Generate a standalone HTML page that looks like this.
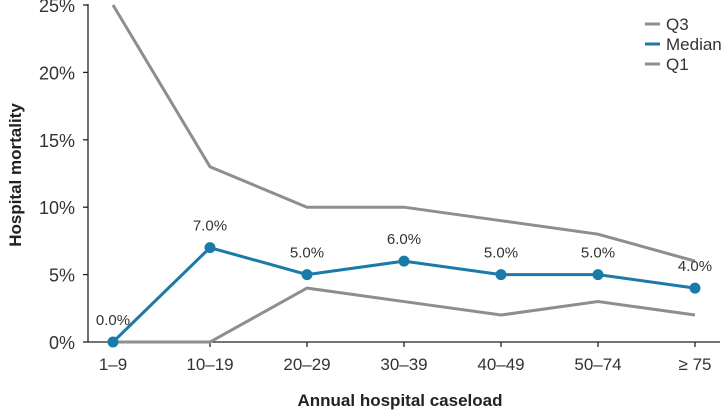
<!DOCTYPE html>
<html><head><meta charset="utf-8"><style>
body{margin:0;background:#fff}
svg{display:block;font-family:"Liberation Sans",Arial,sans-serif}
</style></head><body>
<svg id="c" width="723" height="413"></svg>
<script>
const categories=["1–9","10–19","20–29","30–39","40–49","50–74","≥ 75"];
const q3Values=[25,13,10,10,9,8,6];
const medianValues=[0,7,5,6,5,5,4];
const q1Values=[0,0,4,3,2,3,2];
const yTicks=[0,5,10,15,20,25];
const medianLabels=["0.0%","7.0%","5.0%","6.0%","5.0%","5.0%","4.0%"];

const NS="http://www.w3.org/2000/svg";
const svg=document.getElementById('c');
function el(t,a,p){const e=document.createElementNS(NS,t);for(const k in a)e.setAttribute(k,a[k]);(p||svg).appendChild(e);return e;}
const x0=113,dx=97,y0=342,py=13.48;
const xs=i=>x0+i*dx;
const ys=v=>y0-v*py;

let g=el('g',{});


el('line',{x1:88,y1:4,x2:88,y2:y0,stroke:'#222','stroke-width':1.3},g);
yTicks.forEach(v=>{
  el('line',{x1:83,y1:ys(v),x2:88,y2:ys(v),stroke:'#222','stroke-width':1.3},g);
  const t=el('text',{x:75,y:ys(v)+7,'text-anchor':'end','font-size':18,fill:'#333'},g);
  t.textContent=v+'%';
  
  
});
let xa=el('g',{});


el('line',{x1:88,y1:y0,x2:720,y2:y0,stroke:'#222','stroke-width':1.3},xa);
categories.forEach((c,i)=>{
  el('line',{x1:xs(i),y1:y0,x2:xs(i),y2:y0+5,stroke:'#222','stroke-width':1.3},xa);
  const t=el('text',{x:xs(i),y:y0+28,'text-anchor':'middle','font-size':17,fill:'#333'},xa);
  t.textContent=c;
  
  
});
let yt=el('text',{x:0,y:0,transform:'translate(21,175) rotate(-90)','text-anchor':'middle','font-size':17,'font-weight':'bold',fill:'#222'});
yt.textContent='Hospital mortality';


let xt=el('text',{x:400,y:406,'text-anchor':'middle','font-size':17,'font-weight':'bold',fill:'#222'});
xt.textContent='Annual hospital caseload';



function line(vals,color,name){
  const p=el('polyline',{points:vals.map((v,i)=>xs(i)+','+ys(v)).join(' '),fill:'none',stroke:color,'stroke-width':3});
  
  
}
line(q3Values,'#8e8e8e','q3-line');
line(q1Values,'#8e8e8e','q1-line');
line(medianValues,'#1a7aa8','median-line');
medianValues.forEach((v,i)=>{
  const c=el('circle',{cx:xs(i),cy:ys(v),r:5.5,fill:'#1a7aa8'});
  
  
  const t=el('text',{x:xs(i),y:ys(v)-17,'text-anchor':'middle','font-size':15,fill:'#333'});
  t.textContent=medianLabels[i];
  
  
});
const legend=[["Q3","#8e8e8e",24],["Median","#1a7aa8",44],["Q1","#8e8e8e",64]];
legend.forEach(([n,c,y])=>{
  const lg=el('g',{});
  
  
  el('line',{x1:645,y1:y,x2:660,y2:y,stroke:c,'stroke-width':3},lg);
  const t=el('text',{x:666,y:y+6,'font-size':17,fill:'#333'},lg);
  t.textContent=n;
});
</script>
</body></html>
